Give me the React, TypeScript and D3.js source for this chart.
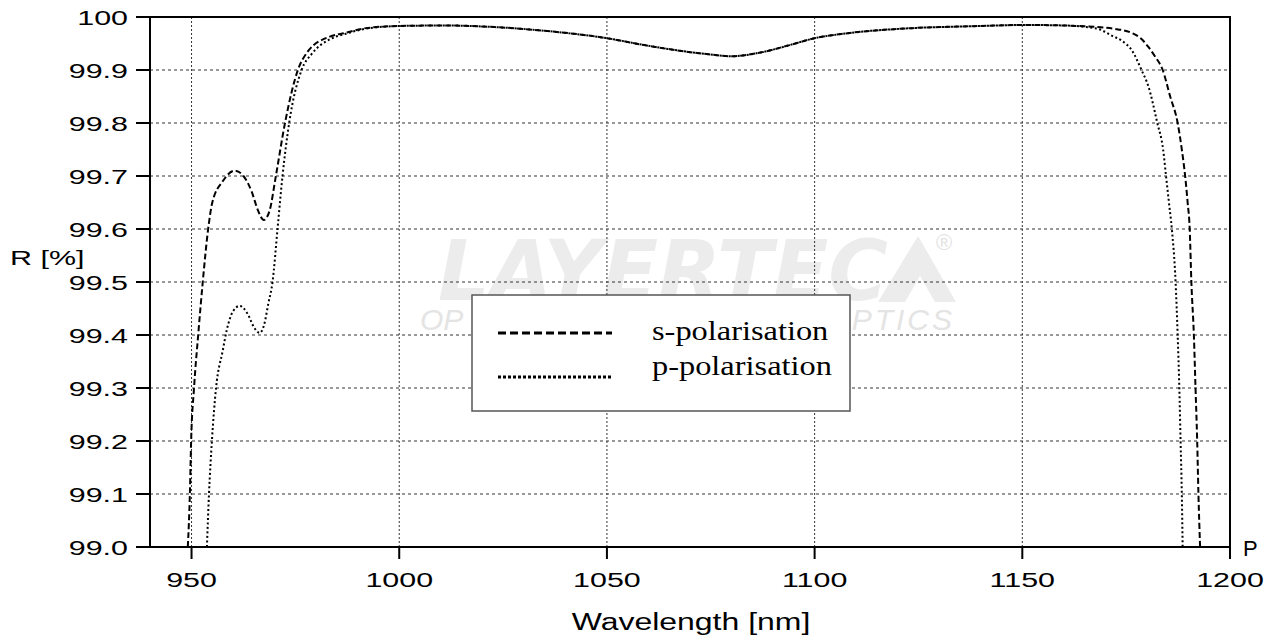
import * as d3 from 'd3';
import { useEffect, useRef } from 'react';

// wavelength [nm] / reflectance [%]
const sWavelength = [
  949.1, 949.6, 949.9, 950.6, 951.6, 952.7, 954.0, 955.0, 957.5, 960.4, 962.5, 964.5, 966.0, 967.4,
  968.8, 970.3, 972.5, 975.6, 978.0, 983.3, 987.0, 992.0, 1000, 1011, 1023, 1035, 1050, 1059, 1067,
  1074, 1080, 1087, 1094, 1100, 1107.5, 1123.5, 1140, 1150, 1160, 1168, 1172, 1176.3, 1178.5, 1180.4,
  1182, 1183.8, 1185.6, 1187.4, 1188.4, 1189.2, 1189.8, 1190.3, 1190.7, 1191.3, 1191.7, 1192.1,
  1192.4, 1192.8,
];
const sReflectance = [
  99.0, 99.1, 99.2, 99.3, 99.4, 99.5, 99.6, 99.65, 99.69, 99.71, 99.7, 99.67, 99.635, 99.617, 99.635,
  99.7, 99.8, 99.9, 99.935, 99.963, 99.97, 99.979, 99.983, 99.984, 99.981, 99.974, 99.96, 99.947,
  99.937, 99.93, 99.926, 99.933, 99.947, 99.96, 99.969, 99.979, 99.983, 99.985, 99.984, 99.981,
  99.978, 99.97, 99.96, 99.943, 99.925, 99.9, 99.85, 99.8, 99.75, 99.7, 99.65, 99.6, 99.5, 99.4,
  99.3, 99.2, 99.1, 99.0,
];
const pWavelength = [
  953.7, 954.2, 954.9, 955.9, 957.5, 958.5, 960.0, 961.6, 963.5, 965.0, 966.4, 967.5, 968.5, 969.5,
  970.7, 971.9, 973.5, 976.5, 978.9, 983.3, 987.0, 992.0, 1000, 1011, 1023, 1035, 1050, 1059, 1067,
  1074, 1080, 1087, 1094, 1100, 1107.5, 1123.5, 1140, 1150, 1160, 1168, 1171.5, 1174, 1176.3,
  1178.7, 1180.4, 1182.5, 1183.9, 1184.6, 1185.3, 1186.0, 1186.9, 1187.4, 1187.8, 1188.1, 1188.4,
  1188.6,
];
const pReflectance = [
  99.0, 99.1, 99.2, 99.3, 99.37, 99.41, 99.445, 99.455, 99.44, 99.415, 99.404, 99.42, 99.46, 99.5,
  99.6, 99.7, 99.8, 99.9, 99.93, 99.958, 99.968, 99.978, 99.983, 99.984, 99.981, 99.974, 99.96,
  99.947, 99.937, 99.93, 99.926, 99.933, 99.947, 99.96, 99.969, 99.979, 99.983, 99.985, 99.984,
  99.978, 99.965, 99.955, 99.938, 99.9, 99.868, 99.8, 99.75, 99.7, 99.65, 99.6, 99.5, 99.4, 99.3,
  99.2, 99.1, 99.0,
];

const xTicks = [950, 1000, 1050, 1100, 1150, 1200];
const xTickLabels = ['950', '1000', '1050', '1100', '1150', '1200'];
const yTicks = [99.0, 99.1, 99.2, 99.3, 99.4, 99.5, 99.6, 99.7, 99.8, 99.9, 100];
const yTickLabels = ['99.0', '99.1', '99.2', '99.3', '99.4', '99.5', '99.6', '99.7', '99.8', '99.9', '100'];
const seriesNames = ['s-polarisation', 'p-polarisation'];

const SANS = '"Liberation Sans", Arial, sans-serif';
const SERIF = '"Liberation Serif", "Times New Roman", serif';

const App = () => {
  const ref = useRef<SVGSVGElement>(null);

  useEffect(() => {
    const svg = d3.select(ref.current);
    svg.selectAll('*').remove();

    const left = 150, right = 1230, top = 17, bottom = 547;
    const x = d3.scaleLinear().domain([940, 1200]).range([left, right]);
    const y = d3.scaleLinear().domain([99, 100]).range([bottom, top]);

    svg.append('rect').attr('width', 1276).attr('height', 636).attr('fill', '#fff');

    // watermark (only the parts not hidden by the legend)
    const wm = svg.append('g');
    wm.append('text')
      .attr('x', 438).attr('y', 300)
      .attr('font-family', '"DejaVu Sans", sans-serif')
      .attr('font-weight', 'bold').attr('font-style', 'italic')
      .attr('font-size', 84)
      .attr('textLength', 450).attr('lengthAdjust', 'spacingAndGlyphs')
      .attr('fill', '#ececec')
      .text('LAYERTEC');
    wm.append('polygon')
      .attr('points', '878,302 918,236 956,302')
      .attr('fill', '#ececec');
    wm.append('polygon')
      .attr('points', '905,302 920,276 935,302')
      .attr('fill', '#fff');
    wm.append('text')
      .attr('x', 944).attr('y', 250)
      .attr('font-family', SANS).attr('font-size', 22)
      .attr('fill', '#e2e2e2').attr('text-anchor', 'middle')
      .text('®');
    wm.append('text')
      .attr('x', 420).attr('y', 330)
      .attr('font-family', SANS).attr('font-style', 'italic')
      .attr('font-size', 30)
      .attr('fill', '#e4e4e4')
      .text('OP');
    wm.append('text')
      .attr('x', 955).attr('y', 330)
      .attr('text-anchor', 'end')
      .attr('font-family', SANS).attr('font-style', 'italic')
      .attr('font-size', 30).attr('letter-spacing', 3)
      .attr('fill', '#e4e4e4')
      .text('PTICS');

    // grid
    const grid = svg.append('g');
    grid.selectAll('.hg')
      .data(yTicks.slice(1, -1))
      .enter()
      .append('line')
      .attr('x1', left).attr('x2', right)
      .attr('y1', (d) => y(d)).attr('y2', (d) => y(d))
      .attr('stroke', '#333').attr('stroke-width', 1)
      .attr('stroke-dasharray', '3,3');
    grid.selectAll('.vg')
      .data(xTicks.slice(0, -1))
      .enter()
      .append('line')
      .attr('y1', top).attr('y2', bottom)
      .attr('x1', (d) => x(d)).attr('x2', (d) => x(d))
      .attr('stroke', '#333').attr('stroke-width', 1)
      .attr('stroke-dasharray', '2,2');

    // curves
    svg.append('clipPath').attr('id', 'plot-clip')
      .append('rect')
      .attr('x', left).attr('y', top)
      .attr('width', right - left).attr('height', bottom - top);

    const line = d3.line<[number, number]>()
      .x((d) => x(d[0]))
      .y((d) => y(d[1]))
      .curve(d3.curveMonotoneX);

    const sData = sWavelength.map((w, i) => [w, sReflectance[i]] as [number, number]);
    const pData = pWavelength.map((w, i) => [w, pReflectance[i]] as [number, number]);

    const curves = svg.append('g').attr('clip-path', 'url(#plot-clip)');
    curves.append('path')
      .attr('d', line(sData))
      .attr('fill', 'none').attr('stroke', '#000')
      .attr('stroke-width', 2).attr('stroke-dasharray', '6,3');
    curves.append('path')
      .attr('d', line(pData))
      .attr('fill', 'none').attr('stroke', '#000')
      .attr('stroke-width', 2).attr('stroke-dasharray', '2,2.5');

    // frame + ticks
    svg.append('rect')
      .attr('x', left).attr('y', top)
      .attr('width', right - left).attr('height', bottom - top)
      .attr('fill', 'none').attr('stroke', '#000').attr('stroke-width', 2);

    svg.selectAll('.yt')
      .data(yTicks)
      .enter()
      .append('line')
      .attr('x1', left - 14).attr('x2', left)
      .attr('y1', (d) => y(d)).attr('y2', (d) => y(d))
      .attr('stroke', '#000').attr('stroke-width', 2);
    svg.selectAll('.xt')
      .data(xTicks)
      .enter()
      .append('line')
      .attr('y1', bottom).attr('y2', bottom + 12)
      .attr('x1', (d) => x(d)).attr('x2', (d) => x(d))
      .attr('stroke', '#000').attr('stroke-width', 2);

    svg.selectAll('.yl')
      .data(yTicks)
      .enter()
      .append('text')
      .attr('transform', (d) => `translate(128,${y(d) + 7.5}) scale(1.45,1)`)
      .attr('text-anchor', 'end')
      .attr('font-family', SANS).attr('font-size', 21)
      .text((d, i) => yTickLabels[i]);
    svg.selectAll('.xl')
      .data(xTicks)
      .enter()
      .append('text')
      .attr('transform', (d) => `translate(${x(d)},587) scale(1.45,1)`)
      .attr('text-anchor', 'middle')
      .attr('font-family', SANS).attr('font-size', 21)
      .text((d, i) => xTickLabels[i]);

    svg.append('text')
      .attr('transform', 'translate(10,265) scale(1.45,1)')
      .attr('font-family', SANS).attr('font-size', 21)
      .text('R [%]');
    svg.append('text')
      .attr('transform', 'translate(691,630) scale(1.36,1)')
      .attr('text-anchor', 'middle')
      .attr('font-family', SANS).attr('font-size', 23.5)
      .text('Wavelength [nm]');

    // stray P marker right of the axis
    svg.append('text')
      .attr('x', 1243).attr('y', 556)
      .attr('font-family', SANS).attr('font-size', 22)
      .text('P');

    // legend
    const lg = svg.append('g');
    lg.append('rect')
      .attr('x', 472).attr('y', 295)
      .attr('width', 378).attr('height', 116)
      .attr('fill', '#fff').attr('stroke', '#555').attr('stroke-width', 1.5);
    const legendDash = ['8,4', '3,2'];
    const legendY = [333, 377];
    const legendTextY = [340, 375];
    seriesNames.forEach((name, i) => {
      lg.append('line')
        .attr('x1', 498).attr('x2', 612)
        .attr('y1', legendY[i]).attr('y2', legendY[i])
        .attr('stroke', '#000').attr('stroke-width', 3)
        .attr('stroke-dasharray', legendDash[i]);
      lg.append('text')
        .attr('transform', `translate(652,${legendTextY[i]}) scale(1.2,1)`)
        .attr('font-family', SERIF).attr('font-size', 27)
        .text(name);
    });
  }, []);

  return (
    <svg
      ref={ref}
      width="1276"
      height="636"
      style={{ position: 'absolute', left: 0, top: 0 }}
    ></svg>
  );
};

export default App;
